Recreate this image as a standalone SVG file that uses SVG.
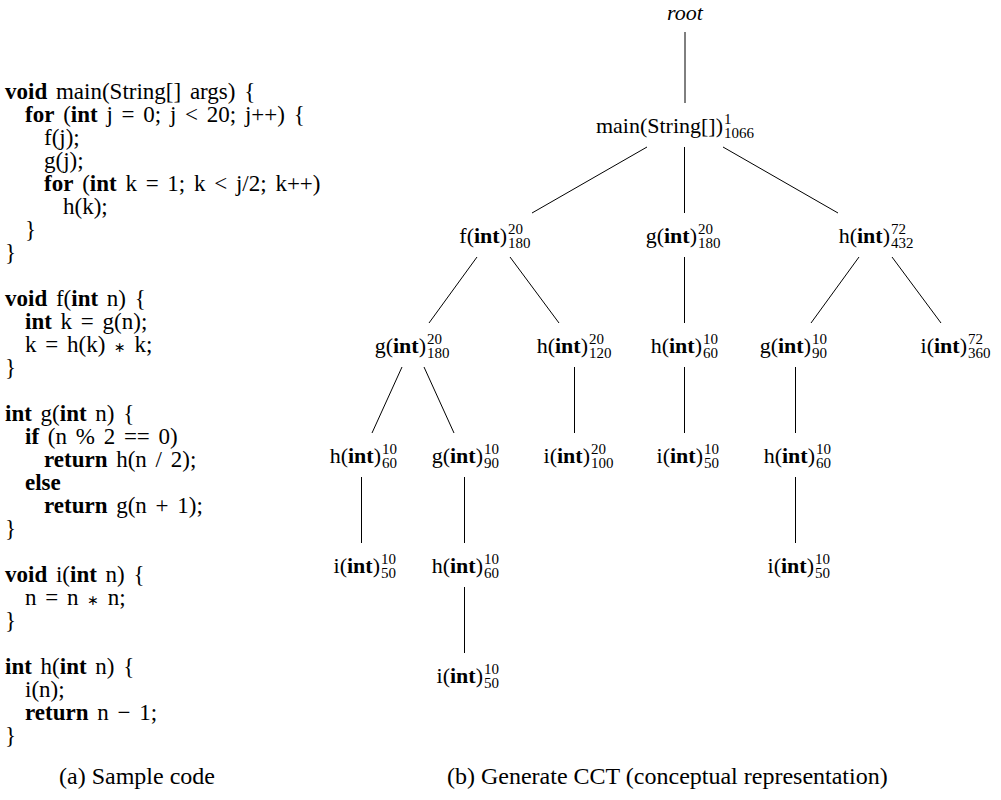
<svg xmlns="http://www.w3.org/2000/svg" width="1001" height="800" viewBox="0 0 1001 800">
<style>
text{font-family:"Liberation Serif","Times New Roman",serif;fill:#000}
.t{font-size:22px}
.c{font-size:23px;word-spacing:3px}
.cap{font-size:24px}
.b{font-weight:bold}
.s{font-size:15px}
.it{font-style:italic}
.ast{font-family:"DejaVu Sans",sans-serif;font-size:14px}
.e line{stroke:#000;stroke-width:1}
</style>
<rect width="1001" height="800" fill="#fff"/>
<g id="code">
<text class="c" x="5" y="99"><tspan class="b">void</tspan> main(String[] args) {</text>
<text class="c" x="25" y="122"><tspan class="b">for</tspan> (<tspan class="b">int</tspan> j = 0; j &lt; 20; j++) {</text>
<text class="c" x="44" y="145">f(j);</text>
<text class="c" x="44" y="168">g(j);</text>
<text class="c" x="44" y="191"><tspan class="b">for</tspan> (<tspan class="b">int</tspan> k = 1; k &lt; j/2; k++)</text>
<text class="c" x="63" y="214">h(k);</text>
<text class="c" x="25" y="237">}</text>
<text class="c" x="5" y="260">}</text>
<text class="c" x="5" y="306"><tspan class="b">void</tspan> f(<tspan class="b">int</tspan> n) {</text>
<text class="c" x="25" y="329"><tspan class="b">int</tspan> k = g(n);</text>
<text class="c" x="25" y="352">k = h(k) <tspan class="ast">∗</tspan> k;</text>
<text class="c" x="5" y="375">}</text>
<text class="c" x="5" y="421"><tspan class="b">int</tspan> g(<tspan class="b">int</tspan> n) {</text>
<text class="c" x="25" y="444"><tspan class="b">if</tspan> (n % 2 == 0)</text>
<text class="c" x="44" y="467"><tspan class="b">return</tspan> h(n / 2);</text>
<text class="c" x="25" y="490"><tspan class="b">else</tspan></text>
<text class="c" x="44" y="513"><tspan class="b">return</tspan> g(n + 1);</text>
<text class="c" x="5" y="536">}</text>
<text class="c" x="5" y="582"><tspan class="b">void</tspan> i(<tspan class="b">int</tspan> n) {</text>
<text class="c" x="25" y="605">n = n <tspan class="ast">∗</tspan> n;</text>
<text class="c" x="5" y="628">}</text>
<text class="c" x="5" y="674"><tspan class="b">int</tspan> h(<tspan class="b">int</tspan> n) {</text>
<text class="c" x="25" y="697">i(n);</text>
<text class="c" x="25" y="720"><tspan class="b">return</tspan> n − 1;</text>
<text class="c" x="5" y="743">}</text>
</g>
<g id="captions">
<text class="cap" x="59" y="784">(a) Sample code</text>
<text class="cap" x="447" y="784">(b) Generate CCT (conceptual representation)</text>
</g>
<g id="connectors" class="e">
<line x1="685" y1="32" x2="685" y2="103"/>
<line x1="647" y1="147" x2="532" y2="213"/>
<line x1="684.5" y1="147" x2="684.5" y2="213"/>
<line x1="723" y1="147" x2="838" y2="213"/>
<line x1="477" y1="257" x2="429" y2="323"/>
<line x1="510" y1="257" x2="559" y2="323"/>
<line x1="684.5" y1="257" x2="684.5" y2="323"/>
<line x1="859" y1="257" x2="811" y2="323"/>
<line x1="892" y1="257" x2="941" y2="323"/>
<line x1="402" y1="367" x2="372" y2="433"/>
<line x1="424" y1="367" x2="454" y2="433"/>
<line x1="574.5" y1="367" x2="574.5" y2="433"/>
<line x1="684.5" y1="367" x2="684.5" y2="433"/>
<line x1="795.5" y1="367" x2="795.5" y2="433"/>
<line x1="361.5" y1="477" x2="361.5" y2="543"/>
<line x1="464.5" y1="477" x2="464.5" y2="543"/>
<line x1="795.5" y1="477" x2="795.5" y2="543"/>
<line x1="464.5" y1="587" x2="464.5" y2="653"/>
</g>
<g id="n-root"><text class="t it" x="685" y="20" text-anchor="middle">root</text></g>
<g id="n-main"><text class="t" x="723" y="133" text-anchor="end">main(String[])</text><text class="s" x="724" y="124">1</text><text class="s" x="724" y="138">1066</text></g>
<g id="n-f"><text class="t" x="507" y="243" text-anchor="end">f(<tspan class="b">int</tspan>)</text><text class="s" x="508" y="234">20</text><text class="s" x="508" y="248">180</text></g>
<g id="n-g2"><text class="t" x="697" y="243" text-anchor="end">g(<tspan class="b">int</tspan>)</text><text class="s" x="698" y="234">20</text><text class="s" x="698" y="248">180</text></g>
<g id="n-h2"><text class="t" x="890" y="243" text-anchor="end">h(<tspan class="b">int</tspan>)</text><text class="s" x="891" y="234">72</text><text class="s" x="891" y="248">432</text></g>
<g id="n-g3"><text class="t" x="426" y="353" text-anchor="end">g(<tspan class="b">int</tspan>)</text><text class="s" x="427" y="344">20</text><text class="s" x="427" y="358">180</text></g>
<g id="n-h3a"><text class="t" x="588" y="353" text-anchor="end">h(<tspan class="b">int</tspan>)</text><text class="s" x="589" y="344">20</text><text class="s" x="589" y="358">120</text></g>
<g id="n-h3b"><text class="t" x="702" y="353" text-anchor="end">h(<tspan class="b">int</tspan>)</text><text class="s" x="703" y="344">10</text><text class="s" x="703" y="358">60</text></g>
<g id="n-g3b"><text class="t" x="811" y="353" text-anchor="end">g(<tspan class="b">int</tspan>)</text><text class="s" x="812" y="344">10</text><text class="s" x="812" y="358">90</text></g>
<g id="n-i3"><text class="t" x="967" y="353" text-anchor="end">i(<tspan class="b">int</tspan>)</text><text class="s" x="968" y="344">72</text><text class="s" x="968" y="358">360</text></g>
<g id="n-h4"><text class="t" x="381" y="463" text-anchor="end">h(<tspan class="b">int</tspan>)</text><text class="s" x="382" y="454">10</text><text class="s" x="382" y="468">60</text></g>
<g id="n-g4"><text class="t" x="483" y="463" text-anchor="end">g(<tspan class="b">int</tspan>)</text><text class="s" x="484" y="454">10</text><text class="s" x="484" y="468">90</text></g>
<g id="n-i4a"><text class="t" x="590" y="463" text-anchor="end">i(<tspan class="b">int</tspan>)</text><text class="s" x="591" y="454">20</text><text class="s" x="591" y="468">100</text></g>
<g id="n-i4b"><text class="t" x="703" y="463" text-anchor="end">i(<tspan class="b">int</tspan>)</text><text class="s" x="704" y="454">10</text><text class="s" x="704" y="468">50</text></g>
<g id="n-h4b"><text class="t" x="815" y="463" text-anchor="end">h(<tspan class="b">int</tspan>)</text><text class="s" x="816" y="454">10</text><text class="s" x="816" y="468">60</text></g>
<g id="n-i5a"><text class="t" x="380" y="573" text-anchor="end">i(<tspan class="b">int</tspan>)</text><text class="s" x="381" y="564">10</text><text class="s" x="381" y="578">50</text></g>
<g id="n-h5"><text class="t" x="483" y="573" text-anchor="end">h(<tspan class="b">int</tspan>)</text><text class="s" x="484" y="564">10</text><text class="s" x="484" y="578">60</text></g>
<g id="n-i5b"><text class="t" x="814" y="573" text-anchor="end">i(<tspan class="b">int</tspan>)</text><text class="s" x="815" y="564">10</text><text class="s" x="815" y="578">50</text></g>
<g id="n-i6"><text class="t" x="483" y="683" text-anchor="end">i(<tspan class="b">int</tspan>)</text><text class="s" x="484" y="674">10</text><text class="s" x="484" y="688">50</text></g>
</svg>
